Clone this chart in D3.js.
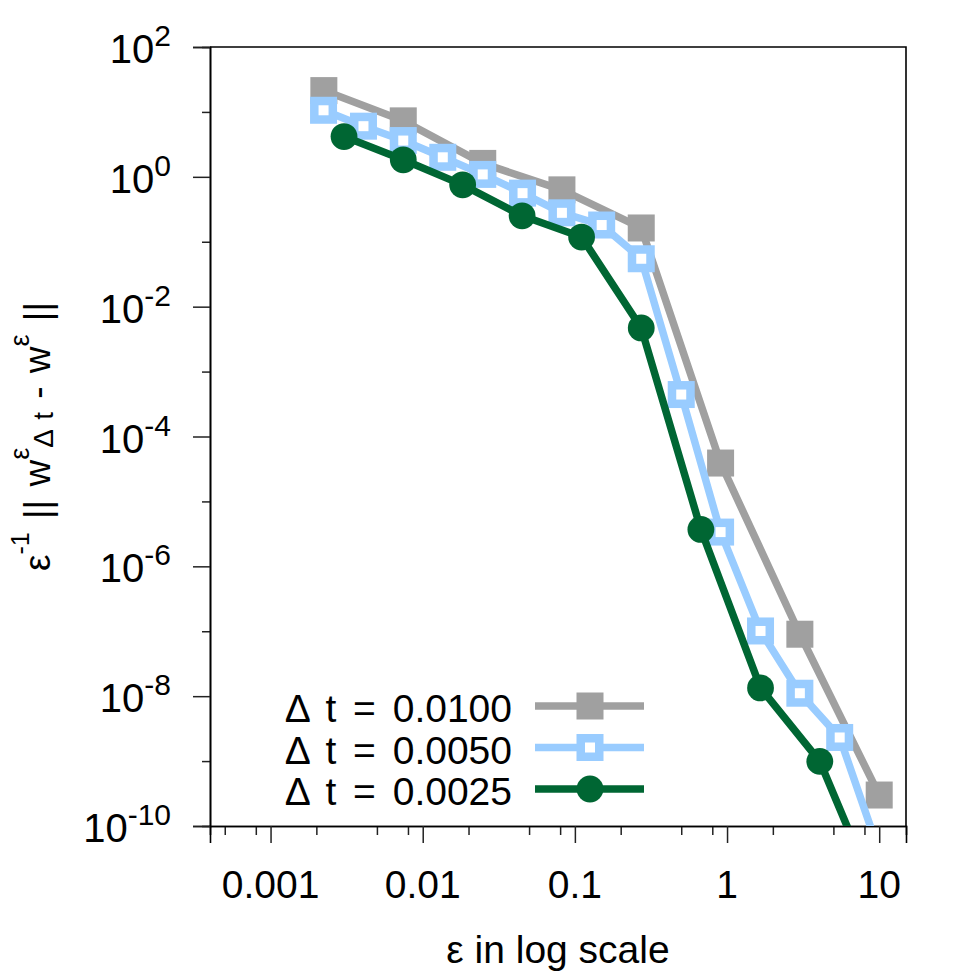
<!DOCTYPE html>
<html>
<head>
<meta charset="utf-8">
<script src="https://cdn.jsdelivr.net/npm/d3@7"></script>
<style>
  body { margin: 0; background: #fff; }
  text { font-family: "Liberation Sans", Arial, Helvetica, sans-serif; fill: #000; }
</style>
</head>
<body>
<div id="chart-area"></div>
<script>
// values
var epsDt0100 = [0.00224, 0.00745, 0.0248, 0.0822, 0.273, 0.907, 3.01, 10];
var errDt0100 = [21.3, 7.28, 1.61, 0.63, 0.163, 3.9e-5, 9.0e-8, 3.0e-10];

var epsDt0050 = [0.00223, 0.00408, 0.00745, 0.01355, 0.0248, 0.0453, 0.0822, 0.15, 0.273, 0.5, 0.907, 1.66, 3.01, 5.5, 10];
var errDt0050 = [10.6, 6.03, 3.62, 2.0, 1.09, 0.561, 0.279, 0.181, 0.0547, 4.43e-4, 3.37e-6, 1.01e-7, 1.11e-8, 2.31e-9, 4e-11];

var epsDt0025 = [0.00304, 0.00745, 0.0183, 0.045, 0.1107, 0.273, 0.673, 1.66, 4.07, 10];
var errDt0025 = [4.17, 1.83, 0.753, 0.251, 0.118, 0.0047, 3.7e-6, 1.34e-8, 9.9e-10, 6.6e-12];

var seriesNames = ["\u0394 t = 0.0100", "\u0394 t = 0.0050", "\u0394 t = 0.0025"];

var xMajorTicks = [0.001, 0.01, 0.1, 1, 10];
var xTickLabels = ["0.001", "0.01", "0.1", "1", "10"];
var xMinorTicks = [0.0005, 0.0008, 0.002, 0.005, 0.008, 0.02, 0.05, 0.08,
                   0.2, 0.5, 0.8, 2, 5, 8];
var yMajorExp = [2, 0, -2, -4, -6, -8, -10];
var yMinorExp = [1, -1, -3, -5, -7, -9];

var W = 975, H = 975;
var margin = { left: 210, right: 69, top: 47, bottom: 149 };
var x0 = margin.left, x1 = W - margin.right,
    y0 = margin.top, y1 = H - margin.bottom;

var svg = d3.select("#chart-area")
    .append("svg")
        .attr("width", W)
        .attr("height", H);

var x = d3.scaleLog().domain([0.0004, 15]).range([x0, x1]);
var y = d3.scaleLog().domain([1e-10, 1e2]).range([y1, y0]);

// axes
var xAxisMajor = d3.axisBottom(x).tickValues(xMajorTicks).tickSize(17).tickFormat("");
var xAxisMinor = d3.axisBottom(x).tickValues(xMinorTicks).tickSize(9).tickFormat("");
var yAxisMajor = d3.axisLeft(y).tickValues(yMajorExp.map(function(e){ return Math.pow(10, e); }))
    .tickSize(17).tickFormat("");
var yAxisMinor = d3.axisLeft(y).tickValues(yMinorExp.map(function(e){ return Math.pow(10, e); }))
    .tickSize(8).tickFormat("");

function styleAxis(sel) {
    sel.select(".domain").attr("stroke", "#000").attr("stroke-width", 1.6);
    sel.selectAll(".tick line").attr("stroke", "#222").attr("stroke-width", 1.5);
}

svg.append("g").attr("transform", "translate(0," + y1 + ")").call(xAxisMinor).call(styleAxis);
svg.append("g").attr("transform", "translate(0," + y1 + ")").call(xAxisMajor).call(styleAxis);
svg.append("g").attr("transform", "translate(" + x0 + ",0)").call(yAxisMinor).call(styleAxis);
svg.append("g").attr("transform", "translate(" + x0 + ",0)").call(yAxisMajor).call(styleAxis);

// top and right border
svg.append("path")
    .attr("d", "M" + x0 + "," + y0 + "H" + x1 + "V" + y1)
    .attr("fill", "none")
    .attr("stroke", "#000")
    .attr("stroke-width", 1.6);

// x tick labels
svg.selectAll(".xlab")
    .data(xMajorTicks)
    .enter().append("text")
    .attr("class", "xlab")
    .attr("x", function(d){ return x(d); })
    .attr("y", 898)
    .attr("text-anchor", "middle")
    .attr("font-size", "39px")
    .text(function(d, i){ return xTickLabels[i]; });

// y tick labels 10^n
var ylab = svg.selectAll(".ylab")
    .data(yMajorExp)
    .enter().append("text")
    .attr("class", "ylab")
    .attr("x", 171)
    .attr("y", function(d){ return y(Math.pow(10, d)) + 16; })
    .attr("text-anchor", "end")
    .attr("font-size", "40px");
ylab.append("tspan").text("10");
ylab.append("tspan")
    .attr("dy", -17)
    .attr("font-size", "30px")
    .text(function(d){ return d; });

// axis titles
svg.append("text")
    .attr("x", (x0 + x1) / 2)
    .attr("y", 963)
    .attr("text-anchor", "middle")
    .attr("font-size", "39px")
    .text("\u03b5 in log scale");

var yTitle = svg.append("text")
    .attr("transform", "translate(50," + ((y0 + y1) / 2) + ") rotate(-90)")
    .attr("text-anchor", "middle")
    .attr("font-size", "37px")
    .attr("word-spacing", "3px");
yTitle.append("tspan").text("\u03b5");
yTitle.append("tspan").attr("dy", -21).attr("font-size", "25px").text("-1");
yTitle.append("tspan").attr("dy", 21).text(" || w");
yTitle.append("tspan").attr("dy", -21).attr("font-size", "27px").text("\u03b5");
yTitle.append("tspan").attr("dy", 24).attr("font-size", "28px").text("\u0394 t");
yTitle.append("tspan").attr("dy", -3).text(" - w");
yTitle.append("tspan").attr("dy", -21).attr("font-size", "27px").text("\u03b5");
yTitle.append("tspan").attr("dy", 21).text(" ||");

// series
var series = [
    { name: seriesNames[0], eps: epsDt0100, err: errDt0100, color: "#a0a0a0", marker: "square" },
    { name: seriesNames[1], eps: epsDt0050, err: errDt0050, color: "#99ccff", marker: "open" },
    { name: seriesNames[2], eps: epsDt0025, err: errDt0025, color: "#006633", marker: "circle" }
];

svg.append("clipPath").attr("id", "plot-clip")
    .append("rect")
    .attr("x", x0).attr("y", y0)
    .attr("width", x1 - x0).attr("height", y1 - y0);

var plot = svg.append("g").attr("clip-path", "url(#plot-clip)");

var line = d3.line()
    .x(function(d){ return x(d[0]); })
    .y(function(d){ return y(d[1]); });

function drawMarker(g, type, color, cx, cy) {
    if (type === "square") {
        g.append("rect")
            .attr("x", cx - 13.5).attr("y", cy - 13.5)
            .attr("width", 27).attr("height", 27)
            .attr("fill", color);
    } else if (type === "open") {
        g.append("rect")
            .attr("x", cx - 9.25).attr("y", cy - 9.25)
            .attr("width", 18.5).attr("height", 18.5)
            .attr("fill", "#fff")
            .attr("stroke", color)
            .attr("stroke-width", 8.5);
    } else {
        g.append("circle")
            .attr("cx", cx).attr("cy", cy).attr("r", 13.4)
            .attr("fill", color);
    }
}

series.forEach(function(s){
    var pts = s.eps.map(function(e, i){ return [e, s.err[i]]; });
    var g = plot.append("g");
    g.append("path")
        .attr("d", line(pts))
        .attr("fill", "none")
        .attr("stroke", s.color)
        .attr("stroke-width", 7.5)
        .attr("stroke-linejoin", "round");
    pts.forEach(function(p){
        drawMarker(g, s.marker, s.color, x(p[0]), y(p[1]));
    });
});

// legend
var legend = svg.append("g");
series.forEach(function(s, i){
    var ly = 706 + i * 41.5;
    var row = legend.append("g");
    row.append("line")
        .attr("x1", 535).attr("x2", 644)
        .attr("y1", ly).attr("y2", ly)
        .attr("stroke", s.color)
        .attr("stroke-width", 7.5);
    drawMarker(row, s.marker, s.color, 590, ly);
    row.append("text")
        .attr("x", 512)
        .attr("y", ly + 16)
        .attr("text-anchor", "end")
        .attr("font-size", "39px")
        .attr("word-spacing", "6px")
        .text(s.name);
});
</script>
</body>
</html>
